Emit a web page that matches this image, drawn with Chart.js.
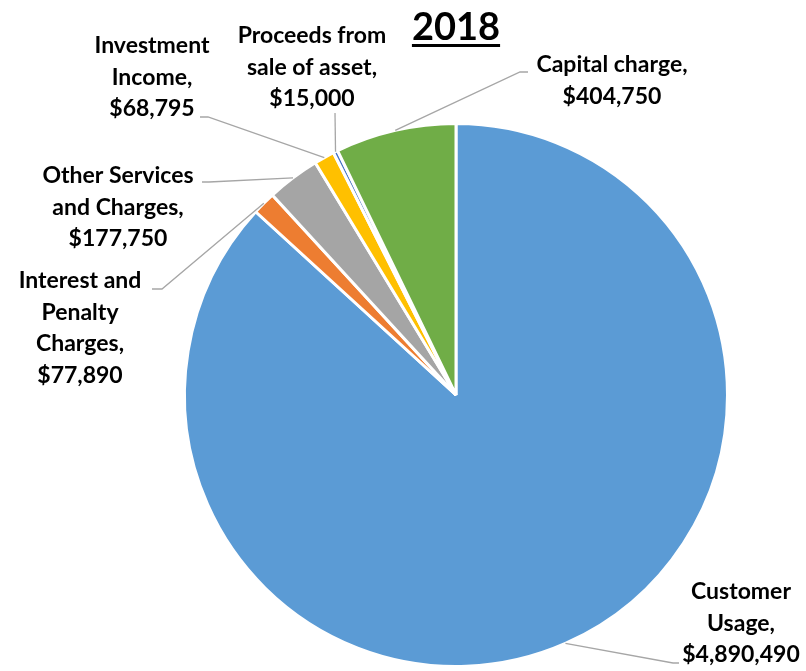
<!DOCTYPE html>
<html>
<head>
<meta charset="utf-8">
<script src="https://cdn.jsdelivr.net/npm/chart.js@4.4.0/dist/chart.umd.min.js"></script>
<style>
  html, body { margin: 0; padding: 0; background: #fff; }
  #wrap { width: 806px; height: 671px; }
</style>
</head>
<body>
<div id="wrap"><canvas id="pie" width="806" height="671"></canvas></div>
<script>
// data
const categories = [
  'Customer Usage',
  'Interest and Penalty Charges',
  'Other Services and Charges',
  'Investment Income',
  'Proceeds from sale of asset',
  'Capital charge'
];
const values = [4890490, 77890, 177750, 68795, 15000, 404750];
const labelLines = [
  ['Customer', 'Usage,'],
  ['Interest and', 'Penalty', 'Charges,'],
  ['Other Services', 'and Charges,'],
  ['Investment', 'Income,'],
  ['Proceeds from', 'sale of asset,'],
  ['Capital charge,']
];
const colors = ['#5B9BD5', '#ED7D31', '#A5A5A5', '#FFC000', '#4472C4', '#70AD47'];

// where each callout sits (text centre x, first baseline y) and where its leader line ends
const callouts = [
  { x: 741, y: 599, end: [[679, 663], [673, 663]] },
  { x: 80,  y: 288, end: [[152, 289], [162, 289]] },
  { x: 118, y: 183, end: [[202, 182], [209, 182]] },
  { x: 152, y: 53,  end: [[200, 117], [208, 117]] },
  { x: 312, y: 43,  end: [[335, 113]] },
  { x: 612, y: 72,  end: [[528, 72], [520, 72]] }
];

const money = v => '$' + v.toLocaleString('en-US');

const calloutPlugin = {
  id: 'callouts',
  afterDatasetsDraw(chart) {
    const ctx = chart.ctx;
    const arcs = chart.getDatasetMeta(0).data;
    ctx.save();

    // leader lines
    ctx.strokeStyle = '#A6A6A6';
    ctx.lineWidth = 1.3;
    arcs.forEach((arc, i) => {
      const p = arc.getProps(['x', 'y', 'startAngle', 'endAngle', 'outerRadius'], true);
      const mid = (p.startAngle + p.endAngle) / 2;
      const sx = p.x + Math.cos(mid) * p.outerRadius;
      const sy = p.y + Math.sin(mid) * p.outerRadius;
      const pts = callouts[i].end;
      ctx.beginPath();
      ctx.moveTo(pts[0][0], pts[0][1]);
      for (let k = 1; k < pts.length; k++) ctx.lineTo(pts[k][0], pts[k][1]);
      ctx.lineTo(sx, sy);
      ctx.stroke();
    });

    // label text
    ctx.fillStyle = '#000';
    ctx.font = 'bold 23px Lato';
    ctx.textAlign = 'center';
    ctx.textBaseline = 'alphabetic';
    labelLines.forEach((lines, i) => {
      const all = lines.concat([money(values[i])]);
      all.forEach((t, k) => {
        ctx.fillText(t, callouts[i].x, callouts[i].y + k * 31.5);
      });
    });

    // title
    ctx.font = 'bold 38px Lato';
    ctx.fillText('2018', 456, 40);
    const w = ctx.measureText('2018').width;
    ctx.fillRect(456 - w / 2, 44, w, 3);

    ctx.restore();
  }
};

new Chart(document.getElementById('pie'), {
  type: 'pie',
  data: {
    labels: categories,
    datasets: [{
      data: values,
      backgroundColor: colors,
      borderColor: '#ffffff',
      borderWidth: 3
    }]
  },
  options: {
    responsive: false,
    animation: false,
    layout: { padding: { top: 122, bottom: 3, left: 183, right: 77 } },
    plugins: {
      legend: { display: false },
      tooltip: { enabled: false },
      title: { display: false }
    }
  },
  plugins: [calloutPlugin]
});
</script>
</body>
</html>
